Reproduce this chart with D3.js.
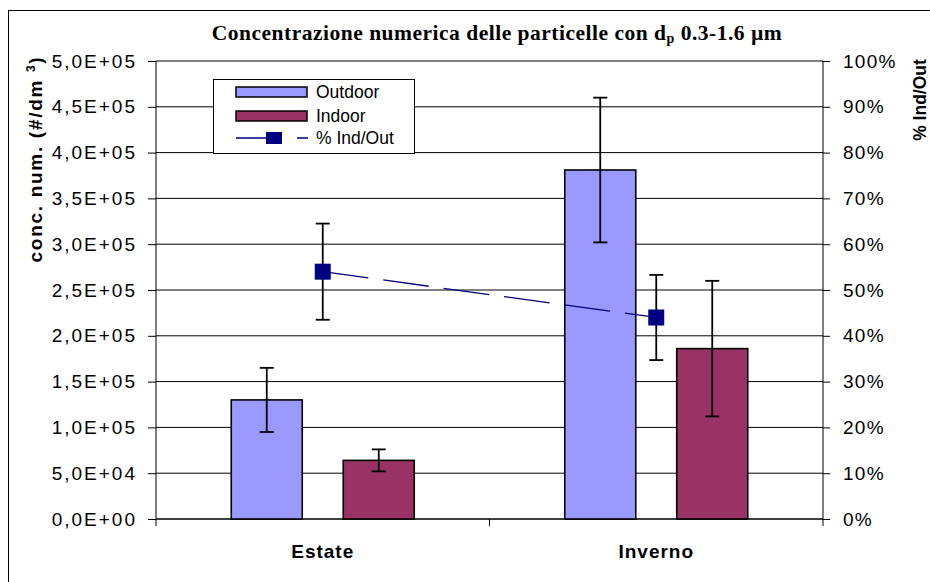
<!DOCTYPE html>
<html>
<head>
<meta charset="utf-8">
<script src="https://cdn.jsdelivr.net/npm/d3@7/dist/d3.min.js"></script>
<style>
  html, body { margin: 0; padding: 0; background: #fff; }
  svg { display: block; }
</style>
</head>
<body>
<svg id="chart" width="930" height="582"></svg>
<script>
// Seasonal number concentration of 0.3-1.6 µm particles
const categories = ["Estate", "Inverno"];
const seriesNames = ["Outdoor", "Indoor"];
const outdoor = [130000, 381000];
const outdoorErr = [35000, 79000];
const indoor = [64000, 186000];
const indoorErr = [12000, 74000];
const ratioPct = [54, 44];          // % Ind/Out
const ratioErr = [10.5, 9.3];
const leftTicks = d3.range(0, 500001, 50000);
const rightTicks = d3.range(0, 101, 10);
const seriesColors = ["#9999FF", "#993366"];
const lineColor = "#000080";

const SANS = "'Liberation Sans', Arial, sans-serif";
const SERIF = "'Liberation Serif', 'Times New Roman', serif";

const svg = d3.select("#chart").style("font-family", SANS);
const plot = { left: 156, right: 823, top: 61, bottom: 519 };

const x = d3.scaleBand().domain(categories).range([plot.left, plot.right]).padding(0);
const xInner = d3.scaleBand().domain(seriesNames).range([-91.5, 91.5]).paddingInner(0.366).paddingOuter(0);
const y = d3.scaleLinear().domain([0, 500000]).range([plot.bottom, plot.top]);
const y2 = d3.scaleLinear().domain([0, 100]).range([plot.bottom, plot.top]);

// outer frame (runs past the right and bottom edges)
svg.append("rect").attr("x", 8.5).attr("y", 10.5).attr("width", 940).attr("height", 590)
  .attr("fill", "#fff").attr("stroke", "#000").attr("stroke-width", 1);

// gridlines
svg.append("g").selectAll("line").data(leftTicks).join("line")
  .attr("x1", plot.left).attr("x2", plot.right)
  .attr("y1", d => y(d)).attr("y2", d => y(d))
  .attr("stroke", "#000").attr("stroke-width", 1);

// left axis
const fmt = d => {
  const s = d3.format(".1e")(d);           // e.g. 5.0e+5
  const [m, e] = s.split("e");
  const sign = e[0];
  const ex = e.slice(1).padStart(2, "0");
  return m.replace(".", ",") + "E" + sign + ex;
};
const gl = svg.append("g").attr("transform", `translate(${plot.left},0)`)
  .call(d3.axisLeft(y).tickValues(leftTicks).tickFormat(fmt).tickSize(8).tickPadding(11));
gl.attr("font-family", null).attr("font-size", null);
gl.select(".domain").attr("d", `M0,${plot.top}V${plot.bottom + 7}`).attr("stroke", "#000");
gl.selectAll(".tick line").attr("stroke", "#000");
gl.selectAll(".tick text").style("font-size", "19px").style("letter-spacing", "2px")
  .style("font-family", SANS).attr("fill", "#000");

// right axis
const gr = svg.append("g").attr("transform", `translate(${plot.right},0)`)
  .call(d3.axisRight(y2).tickValues(rightTicks).tickFormat(d => d + "%").tickSize(7).tickPadding(13));
gr.attr("font-family", null).attr("font-size", null);
gr.select(".domain").attr("d", `M0,${plot.top}V${plot.bottom + 7}`).attr("stroke", "#000");
gr.selectAll(".tick line").attr("stroke", "#000");
gr.selectAll(".tick text").style("font-size", "19px").style("letter-spacing", "1.3px")
  .style("font-family", SANS).attr("fill", "#000");

// bottom axis with boundary ticks
const gb = svg.append("g");
gb.append("line").attr("x1", plot.left).attr("x2", plot.right)
  .attr("y1", plot.bottom).attr("y2", plot.bottom).attr("stroke", "#000");
const boundaries = [x(categories[1])];
gb.selectAll("line.bt").data(boundaries).join("line").attr("class", "bt")
  .attr("x1", d => d).attr("x2", d => d)
  .attr("y1", plot.bottom).attr("y2", plot.bottom + 7).attr("stroke", "#000");
gb.selectAll("text").data(categories).join("text")
  .attr("x", d => x(d) + x.bandwidth() / 2).attr("y", 558)
  .attr("text-anchor", "middle")
  .style("font-weight", "bold").style("font-size", "19px").style("letter-spacing", "1px")
  .text(d => d);

// bars
const barData = [];
categories.forEach((c, i) => {
  barData.push({ cat: c, s: "Outdoor", v: outdoor[i], e: outdoorErr[i], col: seriesColors[0] });
  barData.push({ cat: c, s: "Indoor", v: indoor[i], e: indoorErr[i], col: seriesColors[1] });
});
const cx = d => x(d.cat) + x.bandwidth() / 2;
svg.append("g").selectAll("rect").data(barData).join("rect")
  .attr("x", d => cx(d) + xInner(d.s))
  .attr("width", xInner.bandwidth())
  .attr("y", d => y(d.v))
  .attr("height", d => y(0) - y(d.v))
  .attr("fill", d => d.col).attr("stroke", "#000").attr("stroke-width", 1.6);

// error bars helper
function errorBars(g, data, xf, yTop, yBot) {
  const cap = 7;
  const eb = g.selectAll("g").data(data).join("g");
  eb.append("line").attr("x1", xf).attr("x2", xf).attr("y1", yTop).attr("y2", yBot);
  eb.append("line").attr("x1", d => xf(d) - cap).attr("x2", d => xf(d) + cap).attr("y1", yTop).attr("y2", yTop);
  eb.append("line").attr("x1", d => xf(d) - cap).attr("x2", d => xf(d) + cap).attr("y1", yBot).attr("y2", yBot);
  eb.selectAll("line").attr("stroke", "#000").attr("stroke-width", 1.8);
}
errorBars(svg.append("g"), barData,
  d => cx(d) + xInner(d.s) + xInner.bandwidth() / 2,
  d => y(d.v + d.e), d => y(d.v - d.e));

// ratio line
const ratioData = categories.map((c, i) => ({ cat: c, v: ratioPct[i], e: ratioErr[i] }));
svg.append("path")
  .datum(ratioData)
  .attr("d", d3.line().x(d => cx(d)).y(d => y2(d.v)))
  .attr("fill", "none").attr("stroke", lineColor).attr("stroke-width", 1.3)
  .attr("stroke-dasharray", "46,15");

errorBars(svg.append("g"), ratioData, d => cx(d), d => y2(d.v + d.e), d => y2(d.v - d.e));

svg.append("g").selectAll("rect").data(ratioData).join("rect")
  .attr("x", d => cx(d) - 8).attr("y", d => y2(d.v) - 8)
  .attr("width", 16).attr("height", 16).attr("fill", lineColor);

// legend
const lg = svg.append("g");
lg.append("rect").attr("x", 213.5).attr("y", 79.5).attr("width", 201).attr("height", 74)
  .attr("fill", "#fff").attr("stroke", "#000");
const legendBars = [
  { name: "Outdoor", col: seriesColors[0], y: 92 },
  { name: "Indoor", col: seriesColors[1], y: 116 }
];
legendBars.forEach(it => {
  lg.append("rect").attr("x", 236).attr("y", it.y - 5).attr("width", 71).attr("height", 10)
    .attr("fill", it.col).attr("stroke", "#000").attr("stroke-width", 1.5);
  lg.append("text").attr("x", 316).attr("y", it.y + 6).style("font-size", "17.5px").text(it.name);
});
lg.append("line").attr("x1", 236).attr("x2", 308).attr("y1", 138).attr("y2", 138)
  .attr("stroke", lineColor).attr("stroke-width", 1.3).attr("stroke-dasharray", "46,15");
lg.append("rect").attr("x", 266).attr("y", 132).attr("width", 16).attr("height", 12).attr("fill", lineColor);
lg.append("text").attr("x", 316).attr("y", 144).style("font-size", "17.5px").text("% Ind/Out");

// chart title
const title = svg.append("text").attr("x", 497).attr("y", 40).attr("text-anchor", "middle")
  .style("font-family", SERIF).style("font-weight", "bold").style("font-size", "21.5px")
  .style("letter-spacing", "0.5px");
title.append("tspan").text("Concentrazione numerica delle particelle con d");
title.append("tspan").style("font-size", "14px").attr("dy", 3).text("p");
title.append("tspan").attr("dy", -3).text(" 0.3-1.6 \u00b5m");

// axis titles
const yt = svg.append("text").attr("transform", "translate(42,159) rotate(-90)")
  .attr("text-anchor", "middle")
  .style("font-weight", "bold").style("font-size", "19px").style("letter-spacing", "1.7px");
yt.append("tspan").text("conc. num. (#/dm ");
yt.append("tspan").style("font-size", "12px").attr("dy", -7).text("3");
yt.append("tspan").attr("dy", 7).text(")");

svg.append("text").attr("transform", "translate(926,100) rotate(-90)")
  .attr("text-anchor", "middle")
  .style("font-weight", "bold").style("font-size", "17.5px")
  .text("% Ind/Out");
</script>
</body>
</html>
